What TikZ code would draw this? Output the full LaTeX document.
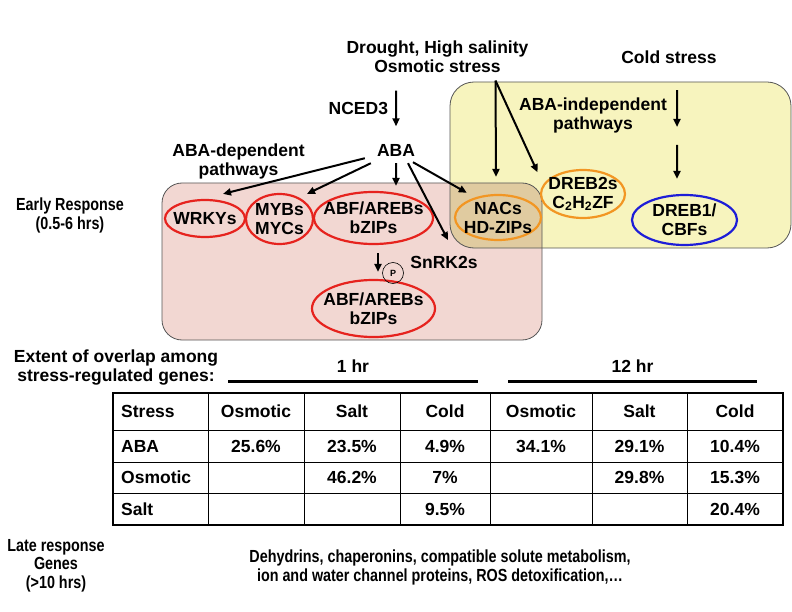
\documentclass[tikz,border=0pt]{standalone}
\usepackage{fontspec}
\setmainfont{Liberation Sans}
\newfontfamily\narrowsf[FakeStretch=0.82]{Liberation Sans}
\usetikzlibrary{arrows.meta,shapes.geometric}

\definecolor{ovalred}{RGB}{230,35,30}
\definecolor{ovalorange}{RGB}{242,150,35}
\definecolor{ovalblue}{RGB}{30,30,215}
\definecolor{abapink}{RGB}{242,215,210}
\definecolor{indyellow}{RGB}{247,244,190}
\definecolor{overlaptan}{RGB}{224,203,160}
\definecolor{boxgray}{RGB}{85,85,85}

\newcommand{\fsz}{\fontsize{17.5bp}{19bp}\selectfont\bfseries}
\newcommand{\Rpink}{20bp}
\newcommand{\Ryel}{24bp}

\begin{document}
\begin{tikzpicture}[x=1bp,y=-1bp,
  lbl/.style={font=\fsz, align=center, inner sep=0pt},
  nlbl/.style={font=\narrowsf\fsz, align=center, inner sep=0pt},
  oval/.style={ellipse, draw=#1, line width=2.2bp, inner sep=0pt},
  arr/.style={-{Triangle[length=8bp,width=7bp]}, line width=2bp},
  cell/.style={font=\fsz, inner sep=0pt},
  boxline/.style={draw=boxgray, line width=0.8bp}]
  \useasboundingbox (0,0) rectangle (792,612);
  % pathway boxes
  \fill[abapink, rounded corners=\Rpink] (162,183) rectangle (542,340);
  \fill[indyellow, rounded corners=\Ryel] (450,82) rectangle (791,248);
  \begin{scope}
    \clip[rounded corners=\Rpink] (162,183) rectangle (542,340);
    \fill[overlaptan, rounded corners=\Ryel] (450,82) rectangle (791,248);
  \end{scope}
  \draw[boxline, rounded corners=\Rpink] (162,183) rectangle (542,340);
  \draw[boxline, rounded corners=\Ryel] (450,82) rectangle (791,248);

  % stresses, ABA, labels
  \node[lbl] (drought) at (437.5,56.5) {Drought, High salinity\\Osmotic stress};
  \node[lbl] (cold) at (669,57) {Cold stress};
  \node[lbl, inner xsep=6bp, inner ysep=7bp] (aba) at (396,150) {ABA};
  \node[lbl] (abadep) at (238.5,161.5) {ABA-dependent\\pathways};
  \node[lbl] (abaind) at (593,115.5) {ABA-independent\\pathways};
  \node[nlbl] (early) at (70,215) {Early Response\\(0.5-6 hrs)};
  \node[lbl] (snrk) at (444,262) {SnRK2s};
  \coordinate (coldmid) at (677,136);

  % transcription factors
  \node[oval=ovalred, minimum width=80bp, minimum height=37bp] (wrkys) at (205,218.5) {};
  \node[oval=ovalred, minimum width=67bp, minimum height=50bp] (mybs) at (279.5,219) {};
  \node[oval=ovalred, minimum width=119bp, minimum height=52bp] (abf) at (373.5,218) {};
  \node[oval=ovalorange, minimum width=86bp, minimum height=45bp] (nacs) at (498,217.5) {};
  \node[oval=ovalorange, minimum width=84bp, minimum height=48bp] (dreb2) at (583,194) {};
  \node[oval=ovalblue, minimum width=105bp, minimum height=50bp] (dreb1) at (684.5,220) {};
  \node[oval=ovalred, minimum width=123bp, minimum height=57bp] (abf2) at (373.5,308.5) {};
  \foreach \n/\t in {wrkys/WRKYs, mybs/{MYBs\\MYCs}, abf/{ABF/AREBs\\bZIPs},
      nacs/{NACs\\HD-ZIPs}, dreb2/{DREB2s\\C\textsubscript{2}H\textsubscript{2}ZF},
      dreb1/{DREB1/\\CBFs}, abf2/{ABF/AREBs\\bZIPs}}
    \node[lbl] (\n-txt) at (\n) {\t};
  \node[circle, draw, line width=0.6bp, minimum size=21bp, inner sep=0pt,
    font=\fontsize{9bp}{9bp}\selectfont\bfseries] (phos) at (393,273) {P};

  % signalling arrows
  \draw[arr] ([xshift=-41.5bp,yshift=-18bp]drought.south) --
    node[lbl, left=7bp] (nced) {NCED3} ([yshift=10.5bp]aba.north);
  \draw[arr] ([xshift=58bp,yshift=-8bp]drought.south) -- ([xshift=-2bp,yshift=17bp]nacs.north);
  \draw[arr] ([xshift=58bp,yshift=-8bp]drought.south) -- ([xshift=-15bp,yshift=4bp]dreb2.north west);
  \draw[arr] ([xshift=8bp,yshift=-26.5bp]cold.south) -- ([yshift=9bp]coldmid);
  \draw[arr] ([yshift=-9bp]coldmid) -- ([xshift=-7.5bp,yshift=15bp]dreb1.north);
  \draw[arr] ([xshift=-6bp,yshift=5bp]aba.south west) -- ([xshift=18bp,yshift=5bp]wrkys.north);
  \draw[arr] (aba.south west) -- ([xshift=27.5bp,yshift=-1bp]mybs.north);
  \draw[arr] (aba.south) -- ([xshift=22.5bp,yshift=5bp]abf.north);
  \draw[arr] ([xshift=12bp]aba.south) -- ([xshift=4bp,yshift=15.5bp]snrk.north);
  \draw[arr] ([xshift=17bp,yshift=1bp]aba.south) -- ([yshift=8bp]nacs.north west);
  \draw[arr] ([xshift=4.5bp,yshift=-8bp]abf.south) -- ([xshift=4.5bp,yshift=7bp]abf2.north);

  % overlap table
  \node[lbl] (extent) at (116,368) {Extent of overlap among\\stress-regulated genes:};
  \node[lbl] (onehr) at (353,366) {1 hr};
  \node[lbl] (twelvehr) at (632.5,366) {12 hr};
  \draw[line width=3bp] (228,381) -- (478,381);
  \draw[line width=3bp] (508,381) -- (757,381);
  \draw[line width=2.2bp] (113,393) rectangle (783,525);
  \foreach \x in {208,304,400,490,592,687} \draw[line width=1bp] (\x,393) -- (\x,525);
  \foreach \y in {430,462,493} \draw[line width=1bp] (113,\y) -- (783,\y);
  \foreach \rname/\y [count=\r] in {Stress/411.5,ABA/446,Osmotic/477.5,Salt/509}
    \node[cell, anchor=west] (row\r) at (121,\y) {\rname};
  \foreach \x/\t [count=\c] in {256/Osmotic,352/Salt,445/Cold,541/Osmotic,639.5/Salt,735/Cold}
    \node[cell] (hd\c) at (\x,411.5) {\t};
  \foreach \x/\t [count=\c] in {256/25.6\%,352/23.5\%,445/4.9\%,541/34.1\%,639.5/29.1\%,735/10.4\%}
    \node[cell] (aba\c) at (\x,446) {\t};
  \foreach \x/\t [count=\c] in {352/46.2\%,445/7\%,639.5/29.8\%,735/15.3\%}
    \node[cell] (osm\c) at (\x,477.5) {\t};
  \foreach \x/\t [count=\c] in {445/9.5\%,735/20.4\%}
    \node[cell] (salt\c) at (\x,509) {\t};

  % late genes
  \node[nlbl, font=\narrowsf\fontsize{17.5bp}{18.5bp}\selectfont\bfseries] (late) at (56,565.4)
    {Late response\\Genes\\(>10 hrs)};
  \node[nlbl] (lategenes) at (440,567.4)
    {Dehydrins, chaperonins, compatible solute metabolism,\\ion and water channel proteins, ROS detoxification,…};
\end{tikzpicture}
\end{document}
